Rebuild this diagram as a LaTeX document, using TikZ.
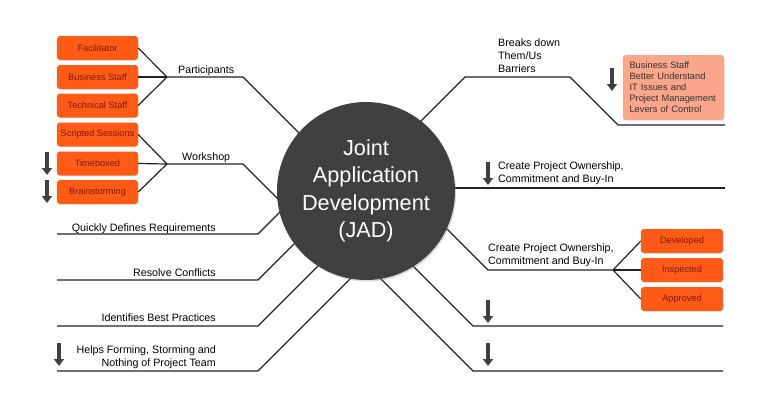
\documentclass[tikz,border=0pt]{standalone}
\usepackage{fontspec}
\setmainfont{Liberation Sans}
\usetikzlibrary{arrows.meta,shadows}

\definecolor{jadgray}{RGB}{64,64,64}
\definecolor{jadorange}{RGB}{255,90,22}
\definecolor{jadred}{RGB}{122,28,5}
\definecolor{jadsalmon}{RGB}{249,166,138}
\definecolor{jadline}{RGB}{34,34,34}

\begin{document}
\begin{tikzpicture}
    [x=1pt,y=-1pt,every node/.style={inner sep=0pt},
     obox/.style={rectangle,rounded corners=3pt,fill=jadorange,text=jadred,
       minimum width=81pt,minimum height=24pt,font=\fontsize{9.2}{11}\selectfont,
       drop shadow={opacity=0.15,shadow xshift=0.8pt,shadow yshift=-0.8pt}},
     lab/.style={font=\fontsize{10.7}{12.6}\selectfont,text=black},
     link/.style={draw=jadline,line width=1.2pt},
     darr/.style={draw=jadgray,line width=3.5pt,-{Triangle[length=7pt,width=10pt]}}]
    \useasboundingbox (0,0) rectangle (767,407);

    % left boxes
    \node[obox] (fac) at (97.5,48)    {Facilitator};
    \node[obox] (bus) at (97.5,77)    {Business Staff};
    \node[obox] (tec) at (97.5,105.5) {Technical Staff};
    \node[obox] (scr) at (97.5,134.5) {Scripted Sessions};
    \node[obox] (tim) at (97.5,163.5) {Timeboxed};
    \node[obox] (bra) at (97.5,192)   {Brainstorming};

    % right boxes
    \node[obox,minimum width=82pt] (dev) at (682,241) {Developed};
    \node[obox,minimum width=82pt] (ins) at (682,270) {Inspected};
    \node[obox,minimum width=82pt] (app) at (682,299) {Approved};
    \node[rectangle,rounded corners=3pt,fill=jadsalmon,text=black!80,
          minimum width=101pt,minimum height=65pt,text width=88pt,align=left,
          font=\fontsize{9.3}{11}\selectfont,
          drop shadow={opacity=0.15,shadow xshift=0.8pt,shadow yshift=-0.8pt}]
          (bsb) at (673.5,87.5)
          {Business Staff\\Better Understand\\IT Issues and\\Project Management\\Levers of Control};

    % junctions and bends
    \coordinate (pj) at (167,77);  \coordinate (pk) at (243,77);  \coordinate (pc) at (323,157);
    \coordinate (wj) at (167,164); \coordinate (wk) at (243,164); \coordinate (wc) at (303,224);
    \coordinate (bc) at (405,137); \coordinate (b1) at (465,77);
    \coordinate (b2) at (570,77);  \coordinate (b3) at (618,125); \coordinate (b4) at (725,125);
    \coordinate (uc) at (400,188); \coordinate (u1) at (725,188);
    \coordinate (lc) at (428,210); \coordinate (l1) at (488,270); \coordinate (lj) at (613,270);
    \coordinate (mc) at (393,246); \coordinate (m1) at (473,326); \coordinate (m2) at (723,326);
    \coordinate (nc) at (363,261); \coordinate (n1) at (473,371); \coordinate (n2) at (723,371);

    \foreach \b in {fac,bus,tec} \draw[link] (\b.east) -- (pj);
    \foreach \b in {scr,tim,bra} \draw[link] (\b.east) -- (wj);
    \foreach \b in {dev,ins,app} \draw[link] (\b.west) -- (lj);
    \draw[link] (pj) -- (pk) -- (pc);
    \draw[link] (wj) -- (wk) -- (wc);
    \draw[link] (bc) -- (b1) -- (b2) -- (b3) -- (b4);
    \draw[link] (uc) -- (u1);
    \draw[link] (lc) -- (l1) -- (lj);
    \draw[link] (mc) -- (m1) -- (m2);
    \draw[link] (nc) -- (n1) -- (n2);

    \foreach \n/\y/\t in {q/234/40,r/280/60,i/326/80,h/371/100}{
      \coordinate (\n0) at (57,\y);
      \coordinate (\n1) at (258,\y);
      \draw[link] (\n0) -- (\n1) -- ++(\t,-\t);
    }

    % labels
    \node[lab,anchor=north west] (part) at (178,66)  {Participants};
    \node[lab,anchor=north west] (work) at (182,153) {Workshop};
    \node[lab,anchor=north east] (quick) at (216,224) {Quickly Defines Requirements};
    \node[lab,anchor=north east] (reso) at (216,269)  {Resolve Conflicts};
    \node[lab,anchor=north east] (best) at (216,314)  {Identifies Best Practices};
    \node[lab,anchor=north east,align=right] (form) at (216,346)
          {Helps Forming, Storming and\\Nothing of Project Team};
    \node[lab,anchor=north west,align=left] (brk) at (498,39) {Breaks down\\Them/Us\\Barriers};
    \node[lab,anchor=north west,align=left] (own1) at (498,162)
          {Create Project Ownership,\\Commitment and Buy-In};
    \node[lab,anchor=north west,align=left] (own2) at (488,244)
          {Create Project Ownership,\\Commitment and Buy-In};

    % down arrows
    \foreach \x/\y in {47/152,47/180,59/343,612/68,488/162,488/300,488/343}
      \draw[darr] (\x,\y) -- ++(0,23);

    % centre
    \node[circle,fill=jadgray,minimum size=178pt,text=white,align=center,
          font=\fontsize{21.7}{27.3}\selectfont,
          drop shadow={opacity=0.3,shadow xshift=1.2pt,shadow yshift=-1.5pt}]
          (jad) at (366,191) {Joint\\Application\\Development\\(JAD)};
\end{tikzpicture}
\end{document}
